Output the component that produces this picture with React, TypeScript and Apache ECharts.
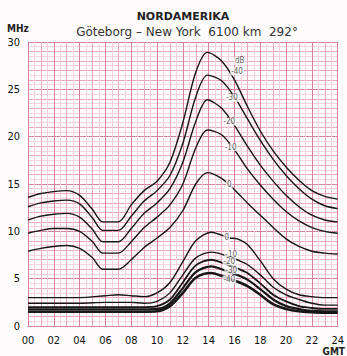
import React, { useEffect, useRef } from "react";
import * as echarts from "echarts";

// ---- data ----
const UPPER_HOURS = [0, 1, 2, 3, 4, 5, 5.8, 7, 8, 9, 10, 11, 12, 13, 13.9, 15, 16, 17, 18, 19, 20, 21, 22, 23, 24];
const U_M40 = [13.6, 14.0, 14.2, 14.3, 13.8, 12.3, 11.0, 11.0, 12.8, 14.3, 15.3, 17.3, 21.5, 26.8, 28.9, 28.0, 26.0, 23.2, 20.6, 18.5, 16.8, 15.4, 14.3, 13.7, 13.4];
const U_M30 = [12.6, 13.0, 13.2, 13.3, 12.9, 11.4, 10.1, 10.1, 11.6, 13.2, 14.3, 15.9, 19.3, 24.2, 26.5, 25.9, 24.2, 21.9, 19.6, 17.6, 15.9, 14.5, 13.4, 12.7, 12.4];
const U_M20 = [11.2, 11.6, 11.8, 11.9, 11.5, 10.2, 8.9, 8.9, 10.3, 11.9, 13.0, 14.5, 17.3, 21.6, 23.9, 23.0, 21.2, 19.0, 17.0, 15.3, 13.8, 12.6, 11.7, 11.2, 11.0];
const U_M10 = [9.8, 10.1, 10.3, 10.3, 10.0, 8.9, 7.7, 7.7, 8.9, 10.4, 11.5, 12.8, 15.0, 18.8, 20.7, 20.2, 18.6, 16.6, 14.9, 13.4, 12.1, 11.1, 10.4, 10.0, 9.8];
const U_0 = [7.9, 8.2, 8.4, 8.5, 8.2, 7.2, 6.0, 6.0, 7.0, 8.3, 9.3, 10.4, 12.2, 15.0, 16.2, 15.6, 14.4, 13.0, 11.7, 10.4, 9.2, 8.4, 7.9, 7.7, 7.6];

const LOWER_HOURS = [0, 2, 4, 6, 7, 8, 9, 10, 11, 12, 13, 14.2, 15, 15.6, 16.2, 17, 18, 19, 20, 21, 22, 23, 24];
const L_0 = [3.0, 3.0, 3.0, 3.2, 3.3, 3.2, 3.1, 3.5, 4.6, 6.8, 9.0, 9.9, 9.6, 9.3, 9.2, 8.6, 6.9, 5.0, 3.9, 3.3, 3.1, 3.0, 3.0];
const L_M10 = [2.4, 2.4, 2.4, 2.5, 2.5, 2.5, 2.4, 2.6, 3.5, 5.4, 7.2, 7.8, 7.6, 7.3, 7.0, 6.5, 5.4, 4.1, 3.3, 2.8, 2.4, 2.2, 2.2];
const L_M20 = [2.0, 2.0, 2.0, 2.0, 2.0, 2.0, 2.0, 2.1, 2.8, 4.6, 6.4, 7.0, 6.7, 6.4, 6.1, 5.6, 4.5, 3.3, 2.6, 2.1, 1.9, 1.8, 1.8];
const L_M30 = [1.75, 1.75, 1.75, 1.75, 1.75, 1.75, 1.75, 1.8, 2.4, 4.0, 5.7, 6.3, 6.0, 5.7, 5.4, 4.9, 3.9, 2.8, 2.1, 1.8, 1.6, 1.55, 1.55];
const L_M40 = [1.5, 1.5, 1.5, 1.5, 1.5, 1.5, 1.5, 1.55, 2.1, 3.5, 5.1, 5.6, 5.3, 5.0, 4.7, 4.2, 3.3, 2.3, 1.8, 1.55, 1.45, 1.4, 1.4];

const CURVE_LABELS: [number, number, string][] = [
  [16.4, 28.0, "dB"],
  [16.2, 26.9, "-40"],
  [15.8, 24.1, "-30"],
  [15.6, 21.6, "-20"],
  [15.7, 18.9, "-10"],
  [15.6, 14.9, "0"],
  [15.4, 9.3, "0"],
  [15.75, 7.6, "-10"],
  [15.6, 6.8, "-20"],
  [15.75, 5.9, "-30"],
  [15.6, 4.9, "-40"],
];

const TITLE = "NORDAMERIKA";
const SUBTITLE = "Göteborg – New York  6100 km  292°";

const BG = "#fdfbfb";
const GRID_MINOR = "#f6d3de";
const GRID_MED = "#eaa9be";
const GRID_DARK = "#d9829f";
const FONT = "'DejaVu Sans Condensed', 'Liberation Sans Narrow', 'DejaVu Sans', sans-serif";
const FONT_WIDE = "'DejaVu Sans', sans-serif";

export default function App() {
  const ref = useRef<HTMLDivElement>(null);
  useEffect(() => {
    if (!ref.current) return;
    const chart = echarts.init(ref.current, null, { renderer: "svg" });
    const mk = (hours: number[], vals: number[], width: number) => ({
      type: "line",
      data: hours.map((h, i) => [h, vals[i]]),
      showSymbol: false,
      smooth: 0.3,
      silent: true,
      z: 3,
      lineStyle: { color: "#161616", width },
    });
    chart.setOption({
      animation: false,
      backgroundColor: BG,
      grid: { left: 28, right: 6, top: 42, bottom: 30 },
      xAxis: {
        type: "value",
        min: 0,
        max: 24,
        interval: 1,
        axisLine: { show: true, lineStyle: { color: GRID_DARK, width: 1 } },
        axisTick: { show: false },
        axisLabel: {
          margin: 9,
          fontSize: 11,
          color: "#111",
          fontFamily: FONT,
          formatter: (v: number) => (v % 2 === 0 ? String(v).padStart(2, "0") : ""),
        },
        splitLine: { show: true, lineStyle: { color: [GRID_DARK, GRID_MED], width: 1 } },
        minorTick: { show: false, splitNumber: 2 },
        minorSplitLine: { show: true, lineStyle: { color: GRID_MINOR, width: 1 } },
      },
      yAxis: {
        type: "value",
        min: 0,
        max: 30,
        interval: 1,
        axisLine: { show: true, lineStyle: { color: GRID_DARK, width: 1 } },
        axisTick: { show: false },
        axisLabel: {
          margin: 8,
          fontSize: 11,
          color: "#111",
          fontFamily: FONT,
          formatter: (v: number) => (v % 5 === 0 ? String(v) : ""),
        },
        splitLine: {
          show: true,
          lineStyle: { color: [GRID_DARK, GRID_MED, GRID_MED, GRID_MED, GRID_MED], width: 1 },
        },
        minorTick: { show: false, splitNumber: 2 },
        minorSplitLine: { show: true, lineStyle: { color: GRID_MINOR, width: 1 } },
      },
      graphic: [
        {
          type: "text",
          x: 183,
          y: 16,
          style: {
            text: TITLE,
            fill: "#222",
            font: `bold 11px ${FONT_WIDE}`,
            textAlign: "center",
            textVerticalAlign: "middle",
          },
        },
        {
          type: "text",
          x: 187,
          y: 32,
          style: {
            text: SUBTITLE,
            fill: "#333",
            font: `12px ${FONT_WIDE}`,
            textAlign: "center",
            textVerticalAlign: "middle",
          },
        },
        {
          type: "text",
          x: 7,
          y: 28,
          style: { text: "MHz", fill: "#222", font: `bold 10px ${FONT}`, textVerticalAlign: "middle" },
        },
        {
          type: "text",
          x: 345,
          y: 351,
          style: { text: "GMT", fill: "#222", font: `bold 10px ${FONT}`, textAlign: "right", textVerticalAlign: "middle" },
        },
      ],
      series: [
        mk(UPPER_HOURS, U_M40, 1.4),
        mk(UPPER_HOURS, U_M30, 1.4),
        mk(UPPER_HOURS, U_M20, 1.4),
        mk(UPPER_HOURS, U_M10, 1.4),
        mk(UPPER_HOURS, U_0, 1.4),
        mk(LOWER_HOURS, L_0, 1.4),
        mk(LOWER_HOURS, L_M10, 1.4),
        mk(LOWER_HOURS, L_M20, 1.8),
        mk(LOWER_HOURS, L_M30, 2.2),
        mk(LOWER_HOURS, L_M40, 2.6),
        {
          type: "scatter",
          data: CURVE_LABELS.map((d) => [d[0], d[1], d[2]]),
          symbolSize: 1,
          silent: true,
          z: 5,
          itemStyle: { color: "rgba(0,0,0,0)" },
          label: {
            show: true,
            position: "inside",
            formatter: (p: any) => p.data[2],
            fontSize: 8,
            fontFamily: FONT,
            color: "#333",
            backgroundColor: BG,
            padding: [0, 1],
          },
        },
      ],
    });
    return () => chart.dispose();
  }, []);
  return (
    <div
      ref={ref}
      style={{ position: "fixed", left: 0, top: 0, width: 347, height: 356 }}
    />
  );
}
